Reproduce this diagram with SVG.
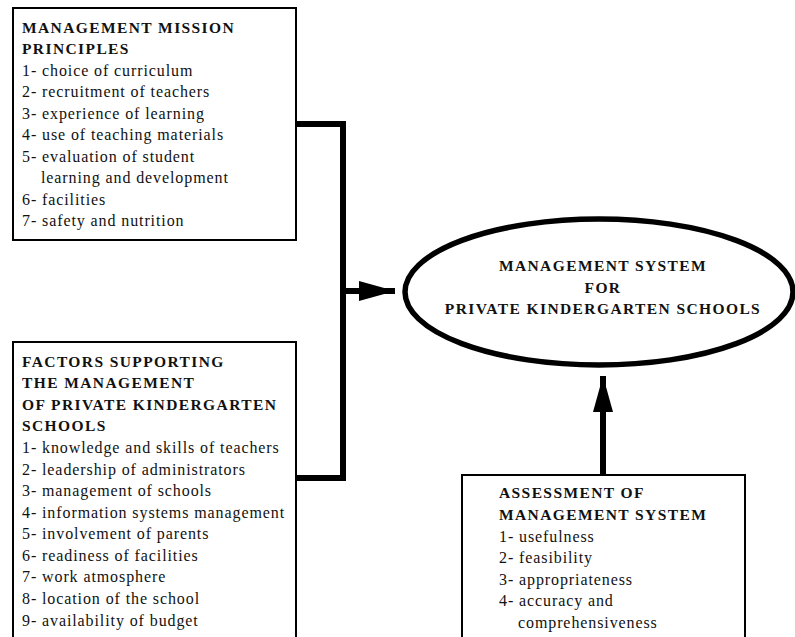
<svg xmlns="http://www.w3.org/2000/svg" width="795" height="637" viewBox="0 0 795 637">
<style>
.box{fill:#fff;stroke:#000;stroke-width:2}
.t{font-family:"Liberation Serif","Times New Roman",serif;font-size:16px;letter-spacing:0.9px;fill:#111}
.h{font-family:"Liberation Serif","Times New Roman",serif;font-size:15.5px;font-weight:bold;letter-spacing:1.4px;fill:#111}
.c{text-anchor:middle}
.conn{fill:none;stroke:#000;stroke-width:6}
</style>
<defs>
<marker id="ah" markerUnits="userSpaceOnUse" markerWidth="40" markerHeight="24" refX="36" refY="10" orient="auto">
<path d="M0,0 L36,10 L0,20 Z" fill="#000"/>
</marker>
</defs>
<rect width="795" height="637" fill="#fff"/>
<g id="connectors">
<path class="conn" d="M297,124 H343 V478 H297"/>
<path class="conn" d="M343,291 H395" marker-end="url(#ah)"/>
<path class="conn" d="M603,475 V376" marker-end="url(#ah)"/>
</g>
<g id="mission">
<rect class="box" x="13" y="8" width="283" height="232"/>
<text class="h" x="22" y="33">MANAGEMENT MISSION</text>
<text class="h" x="22" y="54">PRINCIPLES</text>
<text class="t" x="22" y="76">1- choice of curriculum</text>
<text class="t" x="22" y="97">2- recruitment of teachers</text>
<text class="t" x="22" y="119">3- experience of learning</text>
<text class="t" x="22" y="140">4- use of teaching materials</text>
<text class="t" x="22" y="162">5- evaluation of student</text>
<text class="t" x="41" y="183">learning and development</text>
<text class="t" x="22" y="205">6- facilities</text>
<text class="t" x="22" y="226">7- safety and nutrition</text>
</g>
<g id="factors">
<rect class="box" x="13" y="342" width="283" height="305"/>
<text class="h" x="22" y="367">FACTORS SUPPORTING</text>
<text class="h" x="22" y="388">THE MANAGEMENT</text>
<text class="h" x="22" y="410">OF PRIVATE KINDERGARTEN</text>
<text class="h" x="22" y="431">SCHOOLS</text>
<text class="t" x="22" y="453">1- knowledge and skills of teachers</text>
<text class="t" x="22" y="475">2- leadership of administrators</text>
<text class="t" x="22" y="496">3- management of schools</text>
<text class="t" x="22" y="518">4- information systems management</text>
<text class="t" x="22" y="539">5- involvement of parents</text>
<text class="t" x="22" y="561">6- readiness of facilities</text>
<text class="t" x="22" y="582">7- work atmosphere</text>
<text class="t" x="22" y="604">8- location of the school</text>
<text class="t" x="22" y="626">9- availability of budget</text>
</g>
<g id="system">
<ellipse cx="599" cy="292" rx="194" ry="73" fill="#fff" stroke="#000" stroke-width="5.5"/>
<text class="h c" x="603" y="271">MANAGEMENT SYSTEM</text>
<text class="h c" x="603" y="293">FOR</text>
<text class="h c" x="603" y="314">PRIVATE KINDERGARTEN SCHOOLS</text>
</g>
<g id="assessment">
<rect class="box" x="462" y="475" width="283" height="175"/>
<text class="h" x="499" y="498">ASSESSMENT OF</text>
<text class="h" x="499" y="520">MANAGEMENT SYSTEM</text>
<text class="t" x="499" y="542">1- usefulness</text>
<text class="t" x="499" y="563">2- feasibility</text>
<text class="t" x="499" y="585">3- appropriateness</text>
<text class="t" x="499" y="606">4- accuracy and</text>
<text class="t" x="518" y="628">comprehensiveness</text>
</g>
</svg>
